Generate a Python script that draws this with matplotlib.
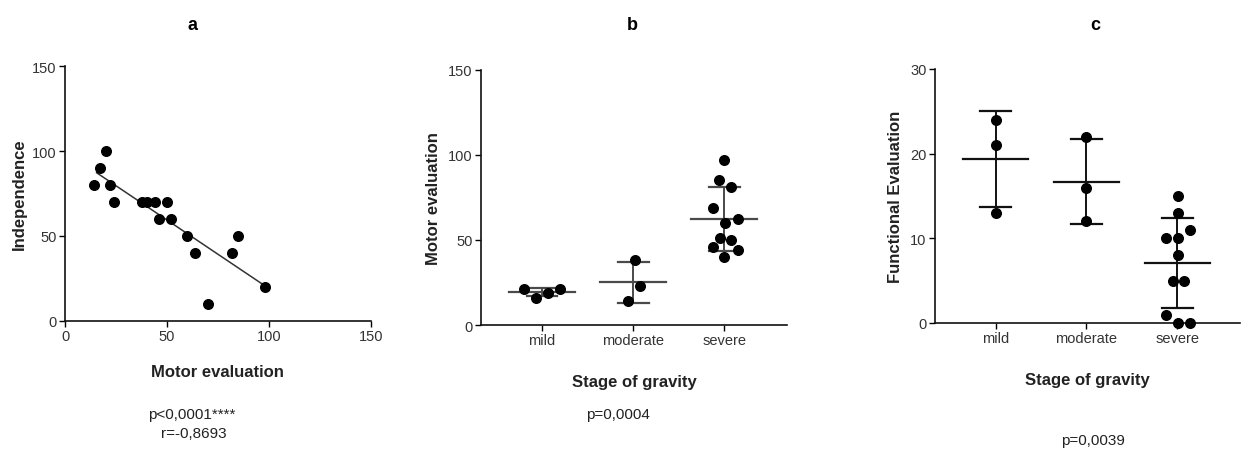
"""Three-panel figure: correlation scatter (a) and dot plots by stage of gravity (b, c)."""

import matplotlib

matplotlib.use("Agg")
import matplotlib.pyplot as plt
import numpy as np

plt.rcParams["font.family"] = ["Liberation Sans Narrow", "Liberation Sans", "DejaVu Sans"]

TICK_GREY = "#333333"
LABEL_GREY = "#222222"

# panel a: motor evaluation vs independence
motor_a = [14, 17, 20, 22, 24, 38, 40, 44, 50, 46, 52, 60, 64, 70, 82, 85, 98]
indep_a = [80, 90, 100, 80, 70, 70, 70, 70, 70, 60, 60, 50, 40, 10, 40, 50, 20]

stages = ["mild", "moderate", "severe"]

# panel b: motor evaluation per stage
motor_mild = [21, 16, 19, 21]
motor_moderate = [38, 23, 14]
motor_severe = [97, 85, 81, 69, 62, 60, 51, 50, 46, 44, 40]
jitter_b_mild = [-0.2, -0.07, 0.07, 0.2]
jitter_b_moderate = [0.02, 0.08, -0.055]
jitter_b_severe = [0.0, -0.055, 0.077, -0.125, 0.147, 0.01, -0.05, 0.073, -0.125, 0.147, 0.0]

# panel c: functional evaluation per stage
func_mild = [24, 21, 13]
func_moderate = [22, 16, 12]
func_severe = [15, 13, 11, 10, 10, 8, 5, 5, 1, 0, 0]
jitter_c_mild = [0.0, 0.0, 0.0]
jitter_c_moderate = [0.0, 0.0, 0.0]
jitter_c_severe = [0.01, 0.01, 0.14, -0.13, 0.01, 0.01, -0.05, 0.07, -0.13, 0.01, 0.14]


def style_axis(ax):
    for side in ("top", "right"):
        ax.spines[side].set_visible(False)
    for side in ("left", "bottom"):
        ax.spines[side].set_linewidth(1.2)
        ax.spines[side].set_color("#111111")
    ax.tick_params(direction="out", length=4, width=1.0, labelsize=10.5,
                   labelcolor=TICK_GREY, pad=2)


def dot_plot(ax, groups, jitters, line_color):
    for i, (vals, jit) in enumerate(zip(groups, jitters), start=1):
        vals = np.asarray(vals, dtype=float)
        mean = vals.mean()
        sd = vals.std(ddof=1)
        ax.plot([i, i], [mean - sd, mean + sd], color=line_color, lw=1.4, zorder=2)
        ax.plot([i - 0.36, i + 0.36], [mean, mean], color=line_color, lw=1.6, zorder=2)
        for y in (mean - sd, mean + sd):
            ax.plot([i - 0.17, i + 0.17], [y, y], color=line_color, lw=1.6, zorder=2)
        ax.scatter(i + np.asarray(jit), vals, s=48, color="black", zorder=3,
                   clip_on=False)
    ax.set_xticks([1, 2, 3])
    ax.set_xticklabels(stages)
    ax.set_xlim(0.33, 3.69)


fig = plt.figure(figsize=(12.48, 4.56), dpi=100)

# ---- panel a
ax_a = fig.add_axes([0.0521, 0.2945, 0.2449, 0.5575])
ax_a.scatter(motor_a, indep_a, s=48, color="black", zorder=3)
slope, intercept = np.polyfit(motor_a, indep_a, 1)
xs = np.array([min(motor_a) + 1.5, max(motor_a)])
ax_a.plot(xs, slope * xs + intercept, color="#333333", lw=1.1, zorder=2)
ax_a.set_xlim(0, 150)
ax_a.set_ylim(0, 150)
ax_a.set_xticks([0, 50, 100, 150])
ax_a.set_yticks([0, 50, 100, 150])
style_axis(ax_a)
ax_a.set_ylabel("Independence", fontsize=12, fontweight="bold", color=LABEL_GREY)
ax_a.set_xlabel("Motor evaluation", fontsize=12, fontweight="bold", color=LABEL_GREY)
ax_a.yaxis.set_label_coords(-0.150, 0.5)
ax_a.xaxis.set_label_coords(0.5, -0.198)

# ---- panel b
ax_b = fig.add_axes([0.3854, 0.285, 0.2452, 0.560])
dot_plot(ax_b, [motor_mild, motor_moderate, motor_severe],
         [jitter_b_mild, jitter_b_moderate, jitter_b_severe], "#4a4a4a")
ax_b.set_ylim(0, 150)
ax_b.set_yticks([0, 50, 100, 150])
style_axis(ax_b)
ax_b.set_ylabel("Motor evaluation", fontsize=12, fontweight="bold", color=LABEL_GREY)
ax_b.set_xlabel("Stage of gravity", fontsize=12, fontweight="bold", color=LABEL_GREY)
ax_b.yaxis.set_label_coords(-0.154, 0.5)
ax_b.xaxis.set_label_coords(0.5, -0.222)

# ---- panel c
ax_c = fig.add_axes([0.749, 0.2895, 0.2446, 0.557])
dot_plot(ax_c, [func_mild, func_moderate, func_severe],
         [jitter_c_mild, jitter_c_moderate, jitter_c_severe], "#111111")
ax_c.set_ylim(0, 30)
ax_c.set_yticks([0, 10, 20, 30])
style_axis(ax_c)
ax_c.set_ylabel("Functional Evaluation", fontsize=12, fontweight="bold", color=LABEL_GREY)
ax_c.set_xlabel("Stage of gravity", fontsize=12, fontweight="bold", color=LABEL_GREY)
ax_c.yaxis.set_label_coords(-0.128, 0.5)
ax_c.xaxis.set_label_coords(0.5, -0.223)

for ax in (ax_a, ax_b, ax_c):
    ax.xaxis.label.set_va("center")
    ax.yaxis.label.set_va("center")

# panel letters and statistics
for letter, x in (("a", 193), ("b", 632), ("c", 1095)):
    fig.text(x / 1248, 1 - 25 / 456, letter, fontsize=13, fontweight="bold",
             ha="center", va="center")

fig.text(192 / 1248, 1 - 415 / 456, "p<0,0001****", fontsize=11, ha="center",
         va="center", color=LABEL_GREY)
fig.text(194 / 1248, 1 - 434 / 456, "r=-0,8693", fontsize=11, ha="center",
         va="center", color=LABEL_GREY)
fig.text(618 / 1248, 1 - 415 / 456, "p=0,0004", fontsize=11, ha="center",
         va="center", color=LABEL_GREY)
fig.text(1093 / 1248, 1 - 441 / 456, "p=0,0039", fontsize=11, ha="center",
         va="center", color=LABEL_GREY)

fig.savefig("out.png", dpi=100)
